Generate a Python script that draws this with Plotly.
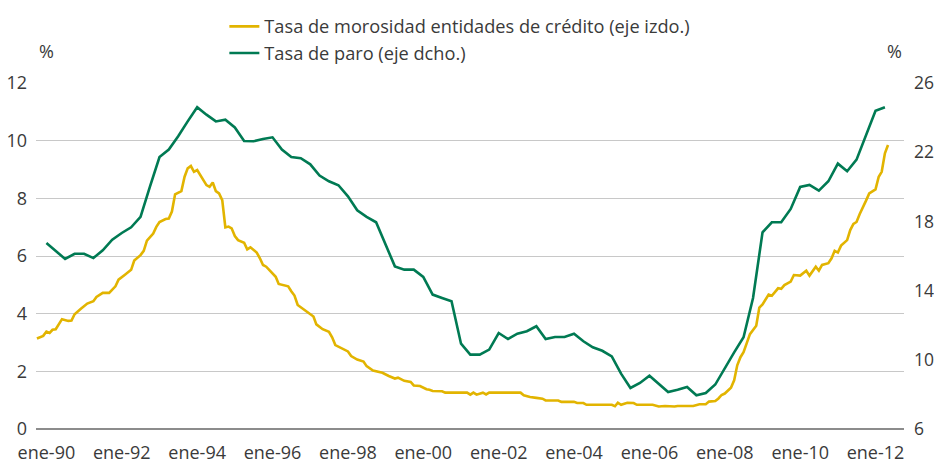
import pandas as pd
import plotly.graph_objects as go

# ---- data ----
# Credit default rate (left axis, %), monthly points; offset in months from ene-90
morosidad_month_offset = [
    -3, -1, 0, 1, 2, 3, 5, 7, 8, 9, 11, 13, 15, 16, 18, 20, 22, 23, 25, 27,
    28, 30, 31, 32, 34, 35, 36, 38, 39, 40, 41, 43, 44, 45, 46, 47, 48, 50,
    51, 52, 53, 54, 55, 56, 57, 58, 59, 60, 61, 63, 64, 65, 67, 68, 69, 70,
    71, 73, 74, 76, 77, 78, 79, 80, 82, 84, 85, 86, 88, 90, 91, 92, 94, 96,
    97, 99, 101, 102, 104, 107, 109, 111, 112, 114, 116, 117, 119, 121, 122,
    123, 126, 127, 134, 135, 136, 137, 139, 140, 141, 151, 152, 154, 156,
    158, 159, 163, 164, 168, 169, 171, 172, 180, 181, 182, 183, 185, 187,
    188, 193, 195, 197, 200, 201, 206, 208, 210, 211, 213, 214, 215, 216,
    218, 219, 220, 221, 222, 223, 224, 226, 227, 228, 229, 230, 231, 233,
    234, 235, 237, 238, 240, 242, 243, 245, 246, 247, 249, 250, 251, 252,
    253, 255, 256, 257, 258, 259, 261, 262, 264, 265, 266, 267, 268,
]
morosidad = [
    3.14, 3.23, 3.38, 3.33, 3.44, 3.46, 3.81, 3.75, 3.76, 3.98, 4.17, 4.35,
    4.43, 4.58, 4.72, 4.72, 4.95, 5.18, 5.35, 5.52, 5.84, 6.03, 6.18, 6.53,
    6.78, 7.01, 7.18, 7.28, 7.30, 7.54, 8.14, 8.25, 8.75, 9.04, 9.12, 8.92,
    8.98, 8.64, 8.46, 8.40, 8.55, 8.25, 8.17, 7.94, 6.99, 7.02, 6.96, 6.69,
    6.55, 6.46, 6.23, 6.30, 6.12, 5.92, 5.69, 5.63, 5.51, 5.28, 5.03, 4.97,
    4.95, 4.78, 4.63, 4.30, 4.15, 3.98, 3.90, 3.63, 3.46, 3.37, 3.18, 2.91,
    2.81, 2.69, 2.53, 2.41, 2.34, 2.18, 2.03, 1.95, 1.84, 1.75, 1.78, 1.67,
    1.63, 1.51, 1.49, 1.38, 1.36, 1.32, 1.31, 1.26, 1.26, 1.19, 1.26, 1.19,
    1.26, 1.20, 1.26, 1.26, 1.17, 1.11, 1.08, 1.05, 0.99, 0.99, 0.94, 0.94,
    0.90, 0.90, 0.84, 0.84, 0.79, 0.91, 0.84, 0.91, 0.90, 0.84, 0.84, 0.78,
    0.80, 0.78, 0.80, 0.80, 0.86, 0.86, 0.95, 0.97, 1.06, 1.18, 1.23, 1.43,
    1.69, 2.21, 2.49, 2.66, 2.98, 3.29, 3.58, 4.21, 4.32, 4.51, 4.66, 4.62,
    4.88, 4.86, 4.99, 5.11, 5.34, 5.32, 5.49, 5.32, 5.63, 5.49, 5.69, 5.75,
    5.92, 6.18, 6.12, 6.36, 6.55, 6.90, 7.11, 7.18, 7.46, 7.92, 8.17, 8.31,
    8.75, 8.92, 9.56, 9.85,
]

# Unemployment rate (right axis, %), quarterly from ene-90
paro_start = "1990-01-01"
paro = [
    16.75, 16.30, 15.83, 16.13, 16.13, 15.88, 16.33, 16.94, 17.33, 17.66,
    18.26, 20.03, 21.72, 22.15, 22.92, 23.78, 24.60, 24.17, 23.78, 23.88,
    23.43, 22.65, 22.63, 22.76, 22.86, 22.15, 21.72, 21.65, 21.30, 20.65,
    20.32, 20.09, 19.45, 18.64, 18.26, 17.95, 16.65, 15.40, 15.21, 15.21,
    14.79, 13.77, 13.57, 13.38, 10.93, 10.30, 10.30, 10.59, 11.55, 11.20,
    11.51, 11.65, 11.94, 11.20, 11.32, 11.32, 11.51, 11.07, 10.72, 10.52,
    10.20, 9.20, 8.37, 8.66, 9.08, 8.62, 8.14, 8.27, 8.43, 7.95,
    8.08, 8.57, 9.53, 10.43, 11.30, 13.57, 17.37, 17.95, 17.95, 18.72,
    19.99, 20.11, 19.78, 20.32, 21.34, 20.90, 21.57, 23.02, 24.40, 24.60,
]

tick_dates = ["1990-01-01", "1992-01-01", "1994-01-01", "1996-01-01",
              "1998-01-01", "2000-01-01", "2002-01-01", "2004-01-01",
              "2006-01-01", "2008-01-01", "2010-01-01", "2012-01-01"]
tick_labels = ["ene-90", "ene-92", "ene-94", "ene-96", "ene-98", "ene-00",
               "ene-02", "ene-04", "ene-06", "ene-08", "ene-10", "ene-12"]
left_ticks = [0, 2, 4, 6, 8, 10, 12]
right_ticks = [6, 10, 14, 18, 22, 26]

name_morosidad = "Tasa de morosidad entidades de crédito (eje izdo.)"
name_paro = "Tasa de paro (eje dcho.)"

# ---- build ----
base = pd.Timestamp("1990-01-01")
x_mor = [base + pd.DateOffset(months=m) for m in morosidad_month_offset]
x_paro = pd.date_range(paro_start, periods=len(paro), freq="QS")

YELLOW = "#E2B400"
GREEN = "#007A53"
TXT = "#3a3a3a"
FONT = "Open Sans"
FS = 18
FS_LEG = 18.2

fig = go.Figure()
fig.add_trace(go.Scatter(x=x_mor, y=morosidad, name=name_morosidad,
                         mode="lines", line=dict(color=YELLOW, width=2.6),
                         legendgroup="a", yaxis="y"))
fig.add_trace(go.Scatter(x=x_paro, y=paro, name=name_paro,
                         mode="lines", line=dict(color=GREEN, width=2.6),
                         legendgroup="b", yaxis="y2"))

fig.update_layout(
    width=934, height=464,
    margin=dict(l=35.5, r=29.5, t=83.3, b=34.7, autoexpand=False),
    paper_bgcolor="white", plot_bgcolor="white",
    font=dict(family=FONT, size=FS, color=TXT),
    showlegend=True,
    legend=dict(x=0.217, y=1 - 8 / 464, yref="container", xanchor="left",
                yanchor="top", orientation="v",
                font=dict(size=FS_LEG, color=TXT),
                tracegroupgap=0, bgcolor="rgba(0,0,0,0)", itemwidth=30),
    xaxis=dict(type="date",
               range=["1989-09-22", "2012-10-03"],
               tickvals=tick_dates, ticktext=tick_labels,
               showgrid=False, ticks="", showline=False, zeroline=False,
               ticklabelstandoff=11,
               tickfont=dict(size=FS, color=TXT)),
    yaxis=dict(range=[0, 12], tickvals=left_ticks, showgrid=True,
               gridcolor="#c8c8c8", gridwidth=1, zeroline=True,
               zerolinecolor="#8c8c8c", zerolinewidth=2,
               ticks="", ticklabelstandoff=8,
               tickfont=dict(size=FS, color=TXT)),
    yaxis2=dict(range=[6, 26], tickvals=right_ticks, overlaying="y",
                side="right", showgrid=False, zeroline=False, ticks="",
                ticklabelstandoff=9, tickfont=dict(size=17.5, color=TXT)),
    annotations=[
        dict(text="%", xref="paper", yref="paper", x=0.0, y=1.0, yshift=18,
             xshift=1, xanchor="left", yanchor="bottom", showarrow=False,
             font=dict(size=FS, color=TXT)),
        dict(text="%", xref="paper", yref="paper", x=1.0, y=1.0, yshift=18,
             xanchor="right", yanchor="bottom", showarrow=False,
             font=dict(size=FS, color=TXT)),
    ],
)

fig.write_html("out.html",
               config={"displayModeBar": False},
               post_script="document.body.style.margin='0';"
                           "document.body.style.overflow='hidden';")
